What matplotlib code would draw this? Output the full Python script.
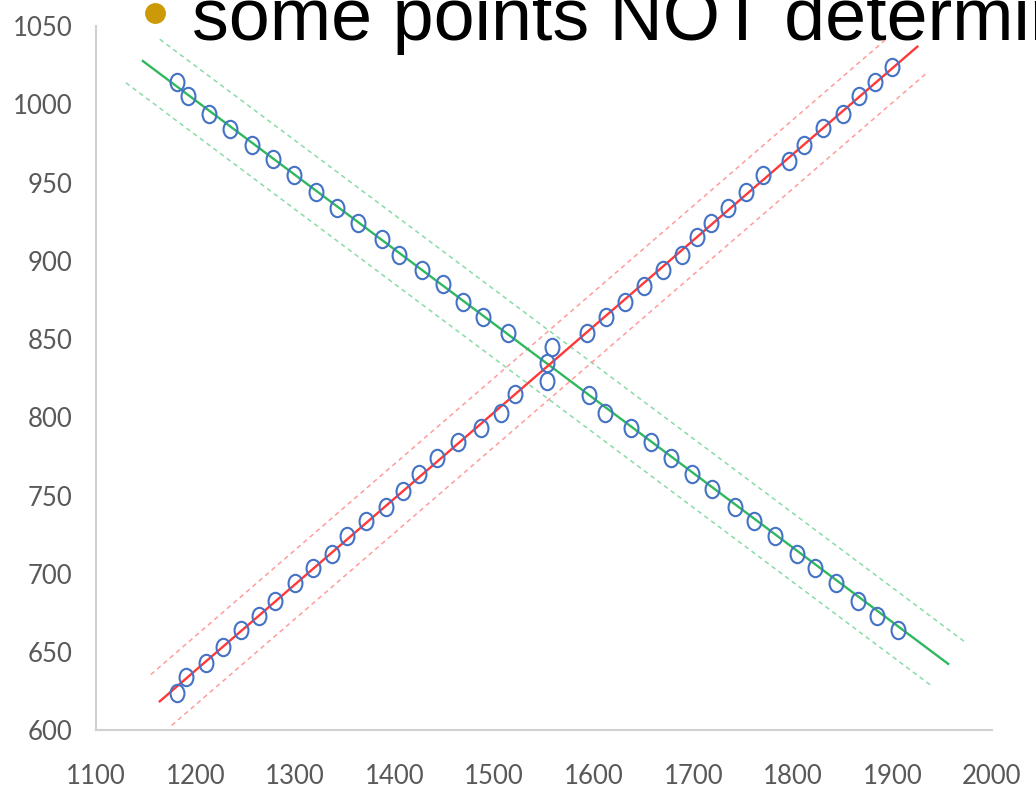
import numpy as np
import matplotlib
matplotlib.use("Agg")
import matplotlib.pyplot as plt
from matplotlib.path import Path
from matplotlib.transforms import Affine2D
from matplotlib.lines import Line2D

# --- points
asc_x = [1181, 1190, 1210, 1228, 1246, 1264, 1280, 1300, 1318, 1337, 1352, 1371, 1391,
         1408, 1424, 1443, 1464, 1487, 1507, 1521, 1593, 1612, 1631, 1650, 1670, 1689,
         1704, 1718, 1735, 1753, 1770, 1796, 1811, 1830, 1850, 1866, 1883, 1900]
asc_y = [624, 634, 643, 653, 664, 673, 683, 694, 704, 713, 724, 734, 743,
         753, 764, 774, 784, 793, 803, 815, 854, 864, 874, 884, 894, 904,
         915, 924, 934, 944, 955, 964, 974, 985, 994, 1005, 1014, 1024]
desc_x = [1181, 1192, 1213, 1235, 1257, 1278, 1299, 1321, 1342, 1363, 1387, 1404, 1427,
          1449, 1469, 1489, 1514, 1595, 1611, 1637, 1657, 1678, 1699, 1719, 1742, 1761,
          1782, 1804, 1822, 1843, 1865, 1885, 1906]
desc_y = [1014, 1005, 994, 984, 974, 965, 955, 944, 934, 924, 914, 904, 894,
          885, 874, 864, 854, 814, 803, 793, 784, 774, 764, 754, 743, 734,
          724, 713, 704, 694, 683, 673, 664]
mid_x = [1553, 1553, 1558]
mid_y = [823, 835, 845]

# fitted lines: slope, intercept, band half-width
red_fit = (0.5495, -21.0)
green_fit = (-0.476, 1573.6)
band = 22
red_span = [1164, 1925]
red_hi_span = [1155, 1895]
red_lo_span = [1176, 1935]
green_span = [1147, 1956]
green_hi_span = [1164, 1973]
green_lo_span = [1130, 1939]

blue = "#4472C4"
green = "#2FB860"
green_l = "#8ADBA8"
red = "#FF3838"
red_l = "#FF9C9C"
grey = "#595959"

plt.rcParams['font.family'] = ['Lato', 'DejaVu Sans']

fig = plt.figure(figsize=(10.36, 7.92), dpi=100)
ax = fig.add_axes([0.0927, 0.0777, 0.8648, 0.8895])

def fit_line(fit, span, off=0.0):
    xs = np.array(span, dtype=float)
    return xs, fit[0] * xs + fit[1] + off

dash = (0, (3, 2.5))
ax.plot(*fit_line(green_fit, green_hi_span, band), color=green_l, lw=1.1, ls=dash)
ax.plot(*fit_line(green_fit, green_lo_span, -band), color=green_l, lw=1.1, ls=dash)
ax.plot(*fit_line(red_fit, red_hi_span, band), color=red_l, lw=1.1, ls=dash)
ax.plot(*fit_line(red_fit, red_lo_span, -band), color=red_l, lw=1.1, ls=dash)
ax.plot(*fit_line(green_fit, green_span), color=green, lw=1.7)
ax.plot(*fit_line(red_fit, red_span), color=red, lw=1.7)

# slightly tall open circles, like the stretched original
ell = Path.unit_circle().transformed(Affine2D().scale(0.8, 1.0))
for xs, ys in [(asc_x, asc_y), (desc_x, desc_y), (mid_x, mid_y)]:
    ax.plot(xs, ys, ls="none", marker=ell, ms=12.5, mfc="none", mec=blue, mew=1.5)

ax.set_xlim(1100, 2000)
ax.set_ylim(600, 1050)
ax.set_xticks(np.arange(1100, 2001, 100))
ax.set_yticks(np.arange(600, 1051, 50))
ax.tick_params(length=0, labelsize=18.5, labelcolor=grey)
ax.tick_params(axis="x", pad=24)
ax.tick_params(axis="y", pad=17)
for s in ["top", "right"]:
    ax.spines[s].set_visible(False)
for s in ["left", "bottom"]:
    ax.spines[s].set_color("#D0D0D0")
    ax.spines[s].set_linewidth(1.5)

# slide text cut at the top
fig.text(192 / 1036, 1 - 40 / 792, "some points NOT determined", fontsize=53,
         family=['Liberation Sans', 'DejaVu Sans'], color="black", va="baseline", ha="left")
fig.add_artist(Line2D([155 / 1036], [1 - 13 / 792], marker="o", ms=14, color="#CC9A06",
                      transform=fig.transFigure))

fig.savefig("out.png", dpi=100)
